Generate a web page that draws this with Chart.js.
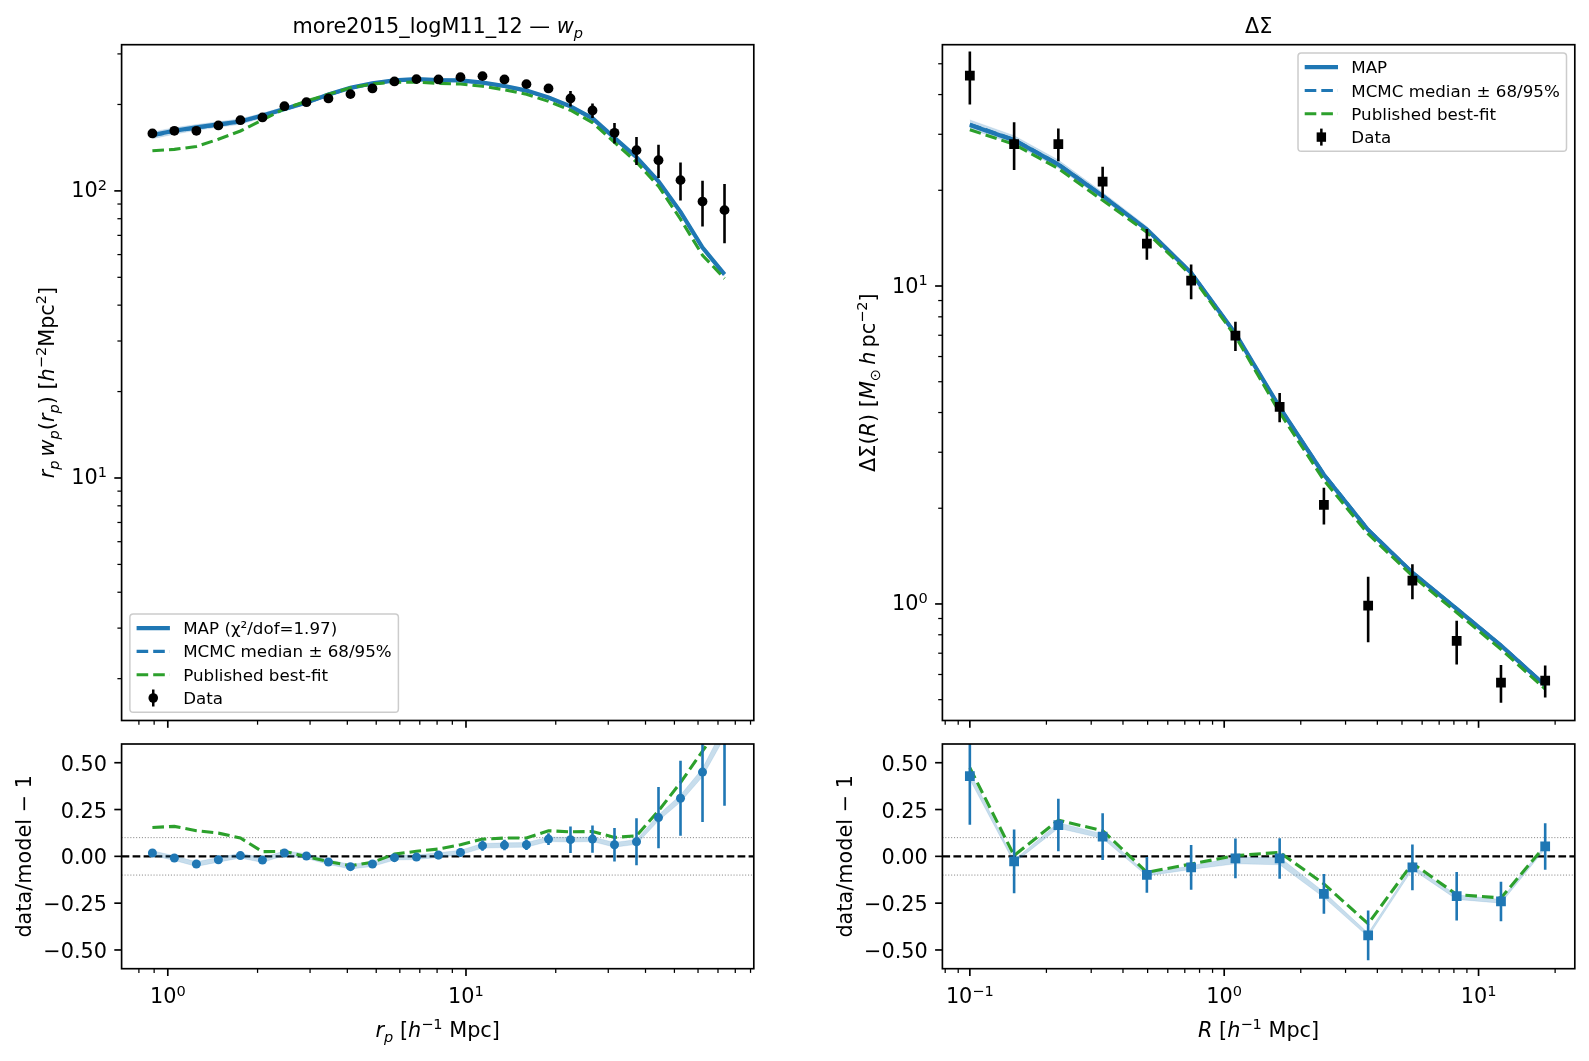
<!DOCTYPE html>
<html>
<head>
<meta charset="utf-8">
<title>more2015_logM11_12 fit</title>
<script src="https://cdn.jsdelivr.net/npm/chart.js@4.4.1/dist/chart.umd.min.js"></script>
<style>
  html, body { margin: 0; padding: 0; background: #fff; }
  #fig { position: relative; width: 1589px; height: 1061px; background: #fff; overflow: hidden; }
  #fig canvas { position: absolute; left: 0; top: 0; }
</style>
</head>
<body>
<div id="fig">
  <canvas id="wpTop" width="1589" height="1061"></canvas>
  <canvas id="wpRes" width="1589" height="1061"></canvas>
  <canvas id="dsTop" width="1589" height="1061"></canvas>
  <canvas id="dsRes" width="1589" height="1061"></canvas>
</div>
<script>
// ─── w_p(r_p) data ────────────────────────────────────────
const RP = [0.888, 1.052, 1.247, 1.478, 1.752, 2.077, 2.461, 2.917, 3.457, 4.098, 4.857, 5.756, 6.822, 8.086,
            9.583, 11.36, 13.46, 15.95, 18.91, 22.41, 26.56, 31.48, 37.31, 44.22, 52.41, 62.12, 73.62];
const WP_DATA = [158.5, 161.9, 161.9, 169.0, 176.3, 180.2, 197.3, 203.7, 209.9, 217.3, 227.4, 240.6, 245.1, 244.5,
                 249.0, 251.0, 244.5, 235.4, 227.4, 209.9, 190.6, 159.3, 138.6, 127.9, 109.0, 91.8, 85.7];
const WP_ERR = [3, 3, 3, 3.2, 3.4, 3.5, 3.8, 4, 4.2, 4.6, 5, 5.4, 5.8, 6, 6.4, 6.8, 7, 7.2, 7.8, 13, 11, 13, 15.6, 17, 16.5, 16.7, 20];
const WP_MAP = [156.5, 162, 166.5, 170.5, 174.5, 183, 193, 203, 216.5, 228.5, 237, 242.5, 245, 243.3,
                242.8, 238.3, 232, 223.5, 211.5, 197, 179, 153, 131, 108, 84.5, 63.5, 51.2];
const WP_MEDIAN = [155.8, 161.2, 165.8, 169.8, 174, 182.5, 192.6, 202.7, 216, 228, 236.6, 242.2, 244.6, 243,
                   242.4, 237.9, 231.6, 223, 211, 196.6, 178.6, 152.7, 130.7, 107.8, 84.3, 63.3, 51];
const WP_LO = [152, 157.5, 162.5, 166.5, 170.5, 179.3, 189.5, 199.8, 213.2, 225.3, 233.8, 239.5, 242, 240.4,
               239.8, 235.4, 229.1, 220.7, 208.8, 194.4, 176.5, 150.8, 129, 106.3, 83.1, 62.4, 50.3];
const WP_HI = [160.5, 166, 170.3, 174.2, 178.2, 186.5, 196.3, 206, 219.6, 231.5, 240, 245.4, 247.9, 246.1,
               245.6, 241.1, 234.8, 226.2, 214.1, 199.5, 181.5, 155.2, 133, 109.7, 85.9, 64.6, 52.1];
const WP_PUB = [138, 139.5, 142.8, 151.3, 161.7, 176.6, 193, 205.5, 217, 228.6, 235.8, 238.8, 239.3, 237,
                235.6, 231.4, 225, 217, 205, 191, 173, 147.5, 126, 103.8, 79.7, 59.7, 49.5];

// residuals (data/model - 1)
const WP_RES = [0.018, -0.009, -0.041, -0.018, 0.004, -0.02, 0.018, 0.002, -0.03, -0.055, -0.041, -0.007, -0.004, 0.007,
                0.021, 0.057, 0.06, 0.062, 0.092, 0.089, 0.092, 0.062, 0.078, 0.207, 0.31, 0.45, 0.67];
const WP_RES_ERR = [0.015, 0.015, 0.015, 0.015, 0.016, 0.016, 0.017, 0.017, 0.018, 0.018, 0.02, 0.02, 0.02, 0.022,
                    0.023, 0.027, 0.028, 0.028, 0.032, 0.071, 0.073, 0.09, 0.126, 0.164, 0.2, 0.266, 0.4];
const WP_RES_PUB = [0.154, 0.16, 0.137, 0.124, 0.098, 0.025, 0.027, -0.002, -0.028, -0.05, -0.032, 0.012, 0.027, 0.039,
                    0.062, 0.092, 0.098, 0.098, 0.137, 0.131, 0.133, 0.101, 0.11, 0.243, 0.394, 0.562, 0.73];
const WP_RES_LO = [0.005, -0.022, -0.054, -0.031, -0.009, -0.033, 0.005, -0.011, -0.043, -0.068, -0.054, -0.02, -0.017, -0.006,
                   0.008, 0.044, 0.047, 0.049, 0.079, 0.076, 0.079, 0.049, 0.064, 0.19, 0.29, 0.425, 0.635];
const WP_RES_HI = [0.03, 0.003, -0.029, -0.006, 0.016, -0.008, 0.03, 0.014, -0.018, -0.043, -0.029, 0.005, 0.008, 0.019,
                   0.033, 0.069, 0.072, 0.074, 0.104, 0.101, 0.104, 0.074, 0.09, 0.222, 0.328, 0.47, 0.7];

// ─── ΔΣ(R) data ───────────────────────────────────────────
const R_DS = [0.1, 0.1493, 0.2228, 0.3327, 0.4966, 0.7413, 1.107, 1.652, 2.466, 3.681, 5.495, 8.204, 12.25, 18.28];
const DS_DATA = [45.9, 27.96, 27.96, 21.3, 13.6, 10.39, 6.98, 4.17, 2.048, 0.988, 1.184, 0.765, 0.566, 0.574];
const DS_ERR = [8.7, 4.8, 3.3, 2.4, 1.5, 1.3, 0.74, 0.44, 0.27, 0.23, 0.15, 0.12, 0.077, 0.066];
const DS_MAP = [32.1, 28.75, 24.1, 19.2, 15.05, 11.0, 7.08, 4.15, 2.55, 1.709, 1.254, 0.965, 0.74, 0.554];
const DS_MEDIAN = [32.3, 28.9, 24.2, 19.25, 15.1, 11.02, 7.09, 4.16, 2.56, 1.715, 1.258, 0.968, 0.742, 0.556];
const DS_LO = [31.2, 28.0, 23.5, 18.8, 14.8, 10.85, 6.99, 4.09, 2.52, 1.69, 1.238, 0.952, 0.731, 0.547];
const DS_HI = [33.3, 29.7, 24.9, 19.7, 15.4, 11.2, 7.2, 4.23, 2.6, 1.735, 1.272, 0.978, 0.751, 0.563];
const DS_PUB = [31.0, 27.9, 23.4, 18.6, 14.75, 10.8, 6.95, 4.0, 2.45, 1.66, 1.225, 0.94, 0.72, 0.54];

const DS_RES = [0.429, -0.027, 0.167, 0.105, -0.099, -0.059, -0.011, -0.011, -0.2, -0.422, -0.059, -0.213, -0.241, 0.053];
const DS_RES_ERR = [0.26, 0.17, 0.14, 0.125, 0.095, 0.12, 0.106, 0.108, 0.106, 0.133, 0.122, 0.13, 0.106, 0.124];
const DS_RES_PUB = [0.473, 0.004, 0.193, 0.137, -0.085, -0.041, 0.004, 0.021, -0.147, -0.36, -0.037, -0.204, -0.222, 0.057];
const DS_RES_LO = [0.41, -0.035, 0.15, 0.095, -0.105, -0.07, -0.04, -0.045, -0.22, -0.43, -0.07, -0.23, -0.25, 0.04];
const DS_RES_HI = [0.45, -0.02, 0.18, 0.12, -0.09, -0.05, -0.005, -0.005, -0.19, -0.41, -0.05, -0.205, -0.23, 0.06];

// ─── Axis limits and tick labels ──────────────────────────
const WP_XLIM = [0.708, 92.3];
const WP_YLIM = [1.43, 323];
const DS_XLIM = [0.078, 23.9];
const DS_YLIM = [0.43, 57.4];
const RES_YLIM = [-0.6, 0.6];
const WP_X_MAJOR = [1, 10];
const WP_Y_MAJOR = [10, 100];
const DS_X_MAJOR = [0.1, 1, 10];
const DS_Y_MAJOR = [1, 10];
const RES_Y_TICKS = [-0.5, -0.25, 0, 0.25, 0.5];
const RES_BAND_LINES = [-0.1, 0.1];

// ─── Style ────────────────────────────────────────────────
const W = 1589, H = 1061;
const BLUE = '#1f77b4', GREEN = '#2ca02c';
const BAND = 'rgba(31,119,180,0.25)';
const BAND_EDGE = 'rgba(31,119,180,0.12)';
const FONT = "'DejaVu Sans', sans-serif";
const FS = 20.8;       // 10pt @150dpi
const FS_LEG = 16.7;   // 8pt
const DASH = [11.6, 5];

const BOX = {
  wpTop: { l: 121.6, t: 44.7, r: 753.8, b: 720.5 },
  wpRes: { l: 121.6, t: 744, r: 753.8, b: 968.7 },
  dsTop: { l: 942.4, t: 44.7, r: 1574.8, b: 720.5 },
  dsRes: { l: 942.4, t: 744, r: 1574.8, b: 968.7 },
};

// ─── rich (mathtext-like) text ────────────────────────────
const T = t => ({ t });
const I = t => ({ t, it: true });
const SUB = (t, it) => ({ t, it, sub: true });
const SUP = t => ({ t, sup: true });

function segFont(s, size) {
  const fs = (s.sub || s.sup) ? size * 0.7 : size;
  return (s.it ? 'italic ' : '') + fs.toFixed(2) + 'px ' + FONT;
}
function richWidth(ctx, segs, size) {
  let w = 0;
  segs.forEach(s => { ctx.font = segFont(s, size); w += ctx.measureText(s.t).width; });
  return w;
}
function drawRich(ctx, segs, x, y, size, align) {
  const w = richWidth(ctx, segs, size);
  let cx = align === 'center' ? x - w / 2 : align === 'right' ? x - w : x;
  ctx.textAlign = 'left';
  ctx.textBaseline = 'alphabetic';
  ctx.fillStyle = '#000';
  segs.forEach(s => {
    ctx.font = segFont(s, size);
    const dy = s.sub ? size * 0.22 : s.sup ? -size * 0.37 : 0;
    ctx.fillText(s.t, cx, y + dy);
    cx += ctx.measureText(s.t).width;
  });
}
const pow10Label = v => {
  const e = Math.round(Math.log10(v));
  return [T('10'), SUP(String(e).replace('-', '\u2212'))];
};
const numLabel = v => [T(v.toFixed(2).replace('-', '\u2212'))];

function logMinor(min, max) {
  const out = [];
  for (let e = Math.floor(Math.log10(min)); e <= Math.ceil(Math.log10(max)); e++) {
    for (let m = 2; m <= 9; m++) {
      const v = m * Math.pow(10, e);
      if (v >= min && v <= max) out.push(v);
    }
  }
  return out;
}

// ─── Panel decorations (set per canvas id) ────────────────
const X_LABEL_RP = [I('r'), SUB('p', true), T(' ['), I('h'), SUP('\u22121'), T(' Mpc]')];
const X_LABEL_R = [I('R'), T(' ['), I('h'), SUP('\u22121'), T(' Mpc]')];
const RES_LABEL = [T('data/model \u2212 1')];

const PANELS = {
  wpTop: {
    xLog: true, xMajor: WP_X_MAJOR, xLim: WP_XLIM, xTickLabels: false,
    yLog: true, yMajor: WP_Y_MAJOR, yLim: WP_YLIM,
    yLabel: [I('r'), SUB('p', true), T('\u2009'), I('w'), SUB('p', true), T('('), I('r'), SUB('p', true), T(') ['),
             I('h'), SUP('\u22122'), T('Mpc'), SUP('2'), T(']')],
    yLabelX: 54,
    title: [T('more2015_logM11_12 \u2014 '), I('w'), SUB('p', true)],
    legend: {
      anchor: 'lower left',
      items: [
        { label: 'MAP (\u03c7\u00b2/dof=1.97)', kind: 'solid', color: BLUE },
        { label: 'MCMC median \u00b1 68/95%', kind: 'dash', color: BLUE },
        { label: 'Published best-fit', kind: 'dash', color: GREEN },
        { label: 'Data', kind: 'err', color: '#000', marker: 'circle' },
      ],
    },
  },
  wpRes: {
    xLog: true, xMajor: WP_X_MAJOR, xLim: WP_XLIM, xTickLabels: true, xLabel: X_LABEL_RP,
    yLog: false, yMajor: RES_Y_TICKS, yLim: RES_YLIM,
    yLabel: RES_LABEL, yLabelX: 31, hlines: true,
  },
  dsTop: {
    xLog: true, xMajor: DS_X_MAJOR, xLim: DS_XLIM, xTickLabels: false,
    yLog: true, yMajor: DS_Y_MAJOR, yLim: DS_YLIM,
    yLabel: [T('\u0394\u03a3('), I('R'), T(') ['), I('M'), SUB('\u2299'), T('\u2009'), I('h'), T('\u2009pc'),
             SUP('\u22122'), T(']')],
    yLabelX: 875,
    title: [T('\u0394\u03a3')],
    legend: {
      anchor: 'upper right',
      items: [
        { label: 'MAP', kind: 'solid', color: BLUE },
        { label: 'MCMC median \u00b1 68/95%', kind: 'dash', color: BLUE },
        { label: 'Published best-fit', kind: 'dash', color: GREEN },
        { label: 'Data', kind: 'err', color: '#000', marker: 'rect' },
      ],
    },
  },
  dsRes: {
    xLog: true, xMajor: DS_X_MAJOR, xLim: DS_XLIM, xTickLabels: true, xLabel: X_LABEL_R,
    yLog: false, yMajor: RES_Y_TICKS, yLim: RES_YLIM,
    yLabel: RES_LABEL, yLabelX: 852, hlines: true,
  },
};

function clipArea(ctx, a) {
  ctx.beginPath();
  ctx.rect(a.left, a.top, a.right - a.left, a.bottom - a.top);
  ctx.clip();
}

function drawLegend(ctx, box, leg) {
  const pad = 6.7, hl = 33.3, htp = 13.3, step = 23.3, first = 14.2, axpad = 8.3;
  ctx.font = FS_LEG + 'px ' + FONT;
  const tw = Math.max(...leg.items.map(it => ctx.measureText(it.label).width));
  const w = pad + hl + htp + tw + pad;
  const h = first * 2 + step * (leg.items.length - 1);
  const x0 = leg.anchor === 'lower left' ? box.l + axpad : box.r - axpad - w;
  const y0 = leg.anchor === 'lower left' ? box.b - axpad - h : box.t + axpad;

  ctx.save();
  ctx.beginPath();
  ctx.roundRect(x0, y0, w, h, 3.3);
  ctx.fillStyle = 'rgba(255,255,255,0.8)';
  ctx.fill();
  ctx.strokeStyle = '#cccccc';
  ctx.lineWidth = 1.5;
  ctx.stroke();

  leg.items.forEach((it, i) => {
    const cy = y0 + first + step * i;
    const hx = x0 + pad;
    ctx.setLineDash([]);
    if (it.kind === 'solid' || it.kind === 'dash') {
      ctx.strokeStyle = it.color;
      ctx.lineWidth = it.kind === 'solid' ? 4.2 : 3.1;
      ctx.lineCap = 'butt';
      if (it.kind === 'dash') ctx.setLineDash(DASH);
      ctx.beginPath(); ctx.moveTo(hx, cy); ctx.lineTo(hx + hl, cy); ctx.stroke();
    } else {
      const mx = hx + hl / 2;
      ctx.strokeStyle = it.color; ctx.lineWidth = 2.5;
      ctx.beginPath(); ctx.moveTo(mx, cy - 8.5); ctx.lineTo(mx, cy + 8.5); ctx.stroke();
      ctx.fillStyle = it.color;
      ctx.beginPath();
      if (it.marker === 'circle') ctx.arc(mx, cy, 4.8, 0, Math.PI * 2);
      else ctx.rect(mx - 4.7, cy - 4.7, 9.4, 9.4);
      ctx.fill();
    }
    ctx.setLineDash([]);
    ctx.fillStyle = '#000';
    ctx.font = FS_LEG + 'px ' + FONT;
    ctx.textAlign = 'left';
    ctx.textBaseline = 'alphabetic';
    ctx.fillText(it.label, hx + hl + htp, cy + 6);
  });
  ctx.restore();
}

// ─── Plugin: matplotlib-style axes, error bars, legend ────
const mplAxes = {
  id: 'mplAxes',
  beforeDatasetsDraw(chart) {
    const p = PANELS[chart.canvas.id];
    if (!p || !p.hlines) return;
    const { ctx, chartArea: a } = chart;
    const y = chart.scales.y;
    ctx.save();
    clipArea(ctx, a);
    RES_BAND_LINES.forEach(v => {
      const py = y.getPixelForValue(v);
      ctx.strokeStyle = 'rgba(110,110,110,0.8)';
      ctx.lineWidth = 1;
      ctx.setLineDash([1.1, 1.8]);
      ctx.beginPath(); ctx.moveTo(a.left, py); ctx.lineTo(a.right, py); ctx.stroke();
    });
    const p0 = y.getPixelForValue(0);
    ctx.strokeStyle = '#000';
    ctx.lineWidth = 2.1;
    ctx.setLineDash([7.7, 3.3]);
    ctx.beginPath(); ctx.moveTo(a.left, p0); ctx.lineTo(a.right, p0); ctx.stroke();
    ctx.restore();
  },
  beforeDatasetDraw(chart, args) {
    const ds = chart.data.datasets[args.index];
    if (!ds.errs) return;
    const { ctx, chartArea: a } = chart;
    const { x, y } = chart.scales;
    ctx.save();
    clipArea(ctx, a);
    ctx.strokeStyle = ds.pointBackgroundColor;
    ctx.lineWidth = 2.6;
    ds.data.forEach((pt, i) => {
      const px = x.getPixelForValue(pt.x);
      const e = ds.errs[i];
      ctx.beginPath();
      ctx.moveTo(px, y.getPixelForValue(pt.y - e));
      ctx.lineTo(px, y.getPixelForValue(pt.y + e));
      ctx.stroke();
    });
    ctx.restore();
  },
  afterDraw(chart) {
    const p = PANELS[chart.canvas.id];
    if (!p) return;
    const { ctx, chartArea: a } = chart;
    const { x, y } = chart.scales;
    ctx.save();
    ctx.setLineDash([]);
    ctx.strokeStyle = '#000';
    ctx.lineCap = 'butt';

    // spines
    ctx.lineWidth = 1.67;
    ctx.strokeRect(a.left, a.top, a.right - a.left, a.bottom - a.top);

    // x ticks
    const xMinor = p.xLog ? logMinor(p.xLim[0], p.xLim[1]) : [];
    xMinor.forEach(v => {
      const px = x.getPixelForValue(v);
      ctx.lineWidth = 1.25;
      ctx.beginPath(); ctx.moveTo(px, a.bottom); ctx.lineTo(px, a.bottom + 4.2); ctx.stroke();
    });
    p.xMajor.forEach(v => {
      const px = x.getPixelForValue(v);
      ctx.lineWidth = 1.67;
      ctx.beginPath(); ctx.moveTo(px, a.bottom); ctx.lineTo(px, a.bottom + 7.3); ctx.stroke();
      if (p.xTickLabels) drawRich(ctx, pow10Label(v), px, a.bottom + 34.6, FS, 'center');
    });

    // y ticks
    const yMinor = p.yLog ? logMinor(p.yLim[0], p.yLim[1]) : [];
    yMinor.forEach(v => {
      const py = y.getPixelForValue(v);
      ctx.lineWidth = 1.25;
      ctx.beginPath(); ctx.moveTo(a.left, py); ctx.lineTo(a.left - 4.2, py); ctx.stroke();
    });
    p.yMajor.forEach(v => {
      const py = y.getPixelForValue(v);
      ctx.lineWidth = 1.67;
      ctx.beginPath(); ctx.moveTo(a.left, py); ctx.lineTo(a.left - 7.3, py); ctx.stroke();
      if (p.yLog) drawRich(ctx, pow10Label(v), a.left - 14.6, py + 6.5, FS, 'right');
      else drawRich(ctx, numLabel(v), a.left - 14.6, py + 8, FS, 'right');
    });

    // axis labels
    const cx = (a.left + a.right) / 2, cy = (a.top + a.bottom) / 2;
    if (p.xLabel) drawRich(ctx, p.xLabel, cx, 1037, FS, 'center');
    if (p.yLabel) {
      ctx.save();
      ctx.translate(p.yLabelX, cy);
      ctx.rotate(-Math.PI / 2);
      drawRich(ctx, p.yLabel, 0, 0, FS, 'center');
      ctx.restore();
    }
    if (p.title) drawRich(ctx, p.title, cx, 33.3, FS, 'center');
    ctx.restore();

    if (p.legend) drawLegend(ctx, BOX[chart.canvas.id], p.legend);
  },
};
Chart.register(mplAxes);

// ─── Chart factory ────────────────────────────────────────
const pts = (xs, ys) => xs.map((x, i) => ({ x, y: ys[i] }));

function lineSet(xs, ys, color, width, dash) {
  return {
    data: pts(xs, ys), borderColor: color, borderWidth: width, borderDash: dash || [],
    pointRadius: 0, fill: false, tension: 0, clip: 0,
  };
}
function bandPair(xs, lo, hi) {
  return [
    { data: pts(xs, hi), borderColor: BAND_EDGE, borderWidth: 1, pointRadius: 0, fill: '+1',
      backgroundColor: BAND, tension: 0, clip: 0 },
    { data: pts(xs, lo), borderColor: BAND_EDGE, borderWidth: 1, pointRadius: 0, fill: false, tension: 0, clip: 0 },
  ];
}
function pointSet(xs, ys, errs, color, style, radius) {
  return {
    data: pts(xs, ys), errs, showLine: false, pointStyle: style, pointRadius: radius,
    pointBackgroundColor: color, pointBorderColor: color, pointBorderWidth: 0, clip: 0,
  };
}

function createPanel(id, xLim, yLim, yType, datasets) {
  const b = BOX[id];
  return new Chart(document.getElementById(id), {
    type: 'line',
    data: { datasets },
    options: {
      responsive: false,
      animation: false,
      devicePixelRatio: 1,
      events: [],
      layout: { autoPadding: false, padding: { left: b.l, top: b.t, right: W - b.r, bottom: H - b.b } },
      plugins: { legend: { display: false }, tooltip: { enabled: false }, title: { display: false } },
      scales: {
        x: { type: 'logarithmic', min: xLim[0], max: xLim[1], display: false },
        y: { type: yType, min: yLim[0], max: yLim[1], display: false },
      },
    },
  });
}

// ─── Build the four panels ────────────────────────────────
createPanel('wpTop', WP_XLIM, WP_YLIM, 'logarithmic', [
  pointSet(RP, WP_DATA, WP_ERR, '#000', 'circle', 4.9),
  lineSet(RP, WP_PUB, GREEN, 3.1, DASH),
  lineSet(RP, WP_MAP, BLUE, 4.2),
  lineSet(RP, WP_MEDIAN, BLUE, 3.1, DASH),
  ...bandPair(RP, WP_LO, WP_HI),
]);

createPanel('wpRes', WP_XLIM, RES_YLIM, 'linear', [
  pointSet(RP, WP_RES, WP_RES_ERR, BLUE, 'circle', 4.5),
  lineSet(RP, WP_RES_PUB, GREEN, 3.1, DASH),
  ...bandPair(RP, WP_RES_LO, WP_RES_HI),
]);

createPanel('dsTop', DS_XLIM, DS_YLIM, 'logarithmic', [
  pointSet(R_DS, DS_DATA, DS_ERR, '#000', 'rect', 6.9),
  lineSet(R_DS, DS_PUB, GREEN, 3.1, DASH),
  lineSet(R_DS, DS_MAP, BLUE, 4.2),
  lineSet(R_DS, DS_MEDIAN, BLUE, 3.1, DASH),
  ...bandPair(R_DS, DS_LO, DS_HI),
]);

createPanel('dsRes', DS_XLIM, RES_YLIM, 'linear', [
  pointSet(R_DS, DS_RES, DS_RES_ERR, BLUE, 'rect', 6.9),
  lineSet(R_DS, DS_RES_PUB, GREEN, 3.1, DASH),
  ...bandPair(R_DS, DS_RES_LO, DS_RES_HI),
]);
</script>
</body>
</html>
